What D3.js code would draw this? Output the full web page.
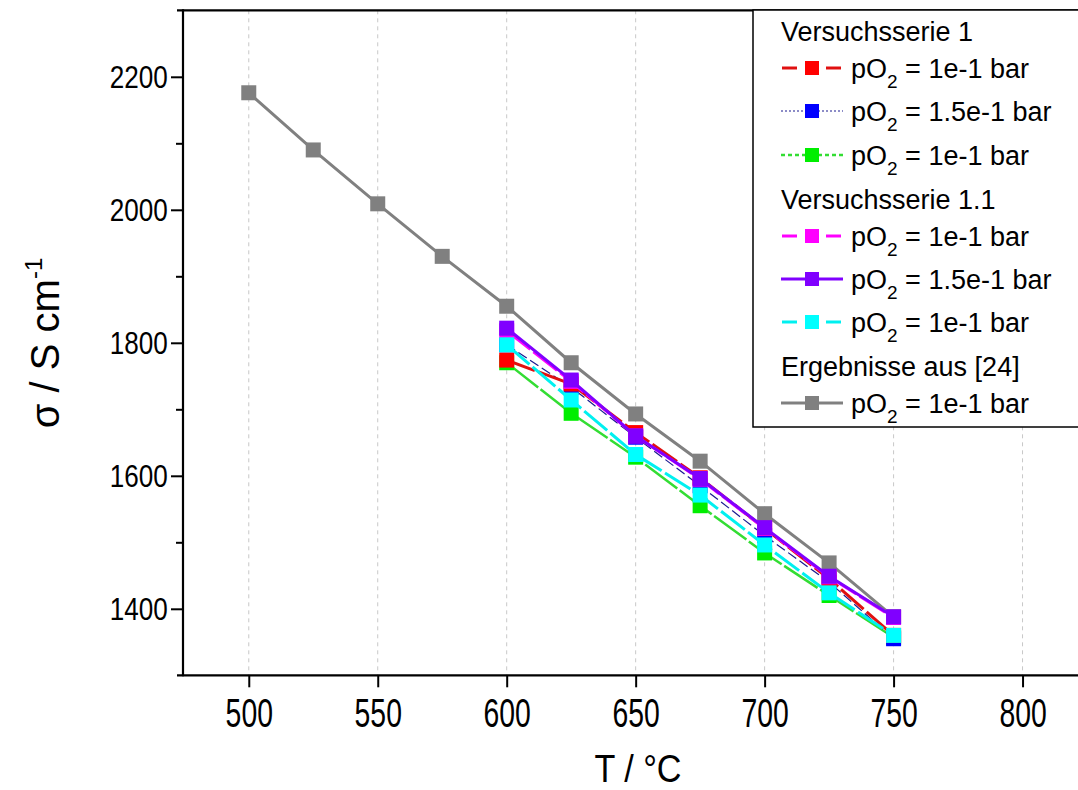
<!DOCTYPE html>
<html>
<head>
<meta charset="utf-8">
<script src="https://cdn.jsdelivr.net/npm/d3@7"></script>
<style>
  body { margin: 0; background: #fff; }
  svg { display: block; }
  .grid line { stroke: #c8c8c8; stroke-dasharray: 4,4; stroke-width: 1; }
  .axis text { fill: #000; }
</style>
</head>
<body>
<div id="chart"></div>
<script>
// --- data ---
const temps = [500, 525, 550, 575, 600, 625, 650, 675, 700, 725, 750];
const tempsShort = [600, 625, 650, 675, 700, 725, 750];

const ergebnisse = [2176, 2090, 2009, 1930, 1855, 1770, 1693, 1622, 1543, 1469, 1388];
const vs1_red   = [1774, 1738, 1665, 1597, 1521, 1445, 1360];
const vs1_blue  = [1797, 1733, 1658, 1585, 1510, 1440, 1355];
const vs1_green = [1770, 1694, 1628, 1555, 1484, 1420, 1357];
const vs11_magenta = [1818, 1742, 1660, 1595, 1521, 1448, 1387];
const vs11_purple  = [1822, 1744, 1660, 1596, 1522, 1449, 1388];
const vs11_cyan    = [1797, 1714, 1632, 1571, 1496, 1424, 1360];

const xTicks = [500, 550, 600, 650, 700, 750, 800];
const yTicks = [1400, 1600, 1800, 2000, 2200];
const yMinor = [1500, 1700, 1900, 2100];

// series list, drawing order (bottom first)
const series = [
  { name: "erg", xs: temps, ys: ergebnisse, color: "#808080", width: 3, dash: null },
  { name: "green", xs: tempsShort, ys: vs1_green, color: "#33dd33", mark: "#00ee00", width: 2.5, dash: "40,3" },
  { name: "blue", xs: tempsShort, ys: vs1_blue, color: "#1a1a90", mark: "#0000ff", width: 1.2, dash: "10,4" },
  { name: "red", xs: tempsShort, ys: vs1_red, color: "#e01010", mark: "#ff0000", width: 3, dash: "30,4" },
  { name: "magenta", xs: tempsShort, ys: vs11_magenta, color: "#ff00ff", width: 3, dash: "30,4" },
  { name: "purple", xs: tempsShort, ys: vs11_purple, color: "#8000ff", width: 3, dash: null },
  { name: "cyan", xs: tempsShort, ys: vs11_cyan, color: "#00f0f0", mark: "#00ffff", width: 3, dash: "30,4" }
];

// legend rows
const legendRows = [
  { type: "head", text: "Versuchsserie 1" },
  { type: "item", s: "red", label: "1e-1 bar" },
  { type: "item", s: "blue", label: "1.5e-1 bar" },
  { type: "item", s: "green", label: "1e-1 bar" },
  { type: "head", text: "Versuchsserie 1.1" },
  { type: "item", s: "magenta", label: "1e-1 bar" },
  { type: "item", s: "purple", label: "1.5e-1 bar" },
  { type: "item", s: "cyan", label: "1e-1 bar" },
  { type: "head", text: "Ergebnisse aus [24]" },
  { type: "item", s: "erg", label: "1e-1 bar" }
];
const legendDash = { red: "dash", blue: "2,2", green: "4,3", magenta: "dash", purple: null, cyan: "dash", erg: null };

const W = 1078, H = 790;
const svg = d3.select("#chart").append("svg").attr("width", W).attr("height", H);
svg.append("rect").attr("width", W).attr("height", H).attr("fill", "#fff");

const x = d3.scaleLinear().domain([474.5, 821.5]).range([183, 1078]);
const y = d3.scaleLinear().domain([1300, 2300]).range([675.3, 10.3]);

const FONT = "'Liberation Sans', Arial, sans-serif";

// grid
svg.append("g").attr("class", "grid")
  .selectAll("line").data(xTicks).enter().append("line")
  .attr("x1", d => x(d)).attr("x2", d => x(d))
  .attr("y1", y(2300)).attr("y2", y(1300));

// axes
const xAxis = svg.append("g").attr("class", "axis")
  .attr("transform", `translate(0,${y(1300)})`)
  .call(d3.axisBottom(x).tickValues(xTicks).tickSize(12).tickFormat(d3.format("d")));
xAxis.select(".domain").remove();
xAxis.selectAll("line").attr("stroke", "#000").attr("stroke-width", 2);
xAxis.selectAll("text").attr("font-family", FONT).attr("font-size", 33)
  .attr("y", 19).attr("transform", "scale(0.86,1.22)");

const yAxis = svg.append("g").attr("class", "axis")
  .attr("transform", `translate(${x(474.5)},0)`)
  .call(d3.axisLeft(y).tickValues(yTicks).tickSize(12).tickPadding(4).tickFormat(d3.format("d")));
yAxis.select(".domain").remove();
yAxis.selectAll("line").attr("stroke", "#000").attr("stroke-width", 2);
yAxis.selectAll("text").attr("font-family", FONT).attr("font-size", 29)
  .attr("x", -17).attr("dy", "0.35em").attr("transform", "scale(0.9,1.1)");

const yAxisMinor = svg.append("g")
  .attr("transform", `translate(${x(474.5)},0)`)
  .call(d3.axisLeft(y).tickValues(yMinor).tickSize(7).tickFormat(""));
yAxisMinor.select(".domain").remove();
yAxisMinor.selectAll("line").attr("stroke", "#000").attr("stroke-width", 2);

// frame lines (left, bottom, top)
svg.append("line").attr("x1", 177).attr("x2", W).attr("y1", y(1300)).attr("y2", y(1300))
  .attr("stroke", "#000").attr("stroke-width", 2.2);
svg.append("line").attr("x1", 177).attr("x2", W).attr("y1", y(2300)).attr("y2", y(2300))
  .attr("stroke", "#000").attr("stroke-width", 2.2);
svg.append("line").attr("x1", x(474.5)).attr("x2", x(474.5)).attr("y1", y(2300) - 1).attr("y2", y(1300) + 1)
  .attr("stroke", "#000").attr("stroke-width", 2.2);

// series
const line = d3.line().x(d => x(d[0])).y(d => y(d[1]));
const MS = 15;
series.forEach(s => {
  const pts = s.xs.map((t, i) => [t, s.ys[i]]);
  const g = svg.append("g");
  g.append("path").datum(pts)
    .attr("d", line).attr("fill", "none")
    .attr("stroke", s.color).attr("stroke-width", s.width)
    .attr("stroke-dasharray", s.dash);
  g.selectAll("rect").data(pts).enter().append("rect")
    .attr("x", d => x(d[0]) - MS / 2).attr("y", d => y(d[1]) - MS / 2)
    .attr("width", MS).attr("height", MS)
    .attr("fill", s.mark || s.color);
});

// axis titles
svg.append("text").attr("transform", "translate(638,782) scale(0.95,1.1)")
  .attr("text-anchor", "middle")
  .attr("font-family", FONT).attr("font-size", 36).text("T / °C");

const yt = svg.append("text").attr("transform", "translate(59,343) rotate(-90)")
  .attr("text-anchor", "middle").attr("font-family", FONT).attr("font-size", 40);
yt.append("tspan").text("σ / S cm");
yt.append("tspan").attr("font-size", 24).attr("dy", -17).text("-1");

// legend
const lg = svg.append("g");
lg.append("rect").attr("x", 753).attr("y", 10).attr("width", 340).attr("height", 417)
  .attr("fill", "#fff").attr("stroke", "#000").attr("stroke-width", 1.5);
const rowY = [41, 68, 111, 155, 209, 236, 279, 322, 376, 403];
const byName = {};
series.forEach(s => byName[s.name] = s);
legendRows.forEach((r, i) => {
  const cy = rowY[i];
  if (r.type === "head") {
    lg.append("text").attr("x", 781).attr("y", cy).attr("font-family", FONT)
      .attr("font-size", 27).text(r.text);
    return;
  }
  const s = byName[r.s];
  const dash = legendDash[r.s];
  const lw = r.s === "blue" ? 1.2 : s.width;
  const segs = dash === "dash" ? [[782, 797], [826, 841]] : [[781, 806], [818, 843]];
  segs.forEach(([a, b]) => {
    lg.append("line").attr("x1", a).attr("x2", b).attr("y1", cy).attr("y2", cy)
      .attr("stroke", s.color).attr("stroke-width", lw)
      .attr("stroke-dasharray", dash && dash !== "dash" ? dash : null);
  });
  lg.append("rect").attr("x", 812 - 7).attr("y", cy - 7).attr("width", 14).attr("height", 14)
    .attr("fill", s.mark || s.color);
  const t = lg.append("text").attr("x", 851).attr("y", cy + 10).attr("font-family", FONT).attr("font-size", 27);
  t.append("tspan").text("pO");
  t.append("tspan").attr("font-size", 19).attr("dy", 10).text("2");
  t.append("tspan").attr("dy", -10).text(" = " + r.label);
});
</script>
</body>
</html>
